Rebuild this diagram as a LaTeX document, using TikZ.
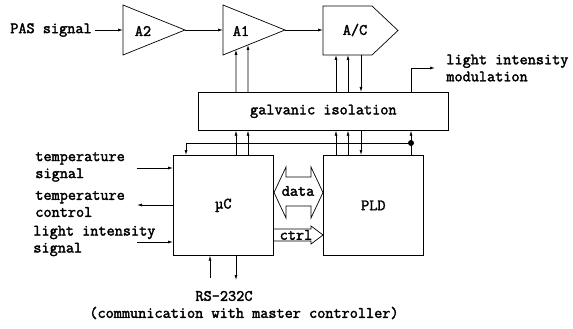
\documentclass[tikz,border=0pt]{standalone}
\usepackage{fontspec}
\setmonofont{Latin Modern Mono}[FakeBold=2.2]
\usetikzlibrary{arrows.meta,calc}
\newcommand\lbfont{\fontsize{15.8}{17}\selectfont\ttfamily}
\begin{document}
\begin{tikzpicture}[x=1pt,y=-1pt,line width=0.7pt,
  arr/.style={-{Latex[length=5pt,width=3pt]}},
  box/.style={draw,inner sep=0pt,anchor=north west,font=\lbfont},
  lbl/.style={font=\lbfont,inner sep=0pt},
  txt/.style={font=\lbfont,inner sep=0pt,align=left}]
\useasboundingbox (0,0) rectangle (573,329);
% amplifiers
\coordinate (a2tl) at (123,5); \coordinate (a2bl) at (123,55); \coordinate (a2tip) at (185,30);
\draw (a2tl) -- (a2tip) -- (a2bl) -- cycle;
\node[lbl] (a2) at (143,31) {A2};
\coordinate (a1tl) at (223,5); \coordinate (a1bl) at (223,55); \coordinate (a1tip) at (285,30);
\draw (a1tl) -- (a1tip) -- (a1bl) -- cycle;
\node[lbl] (a1) at (241,31) {A1};
\coordinate (actl) at (323,6); \coordinate (acbl) at (323,55); \coordinate (actip) at (398,30.5);
\draw (actl) -- (372,6) -- (actip) -- (372,55) -- (acbl) -- cycle;
\node[lbl] (ac) at (355,30) {A/C};
\node[lbl,anchor=east] (pas) at (92,30) {PAS signal};
\draw[arr] ([xshift=3pt]pas.east) -- (a2tl |- a2tip);
\draw[arr] (a2tip) -- (a1tl |- a1tip);
\draw[arr] (a1tip) -- (actl |- a1tip);
% boxes
\node[box,minimum width=250,minimum height=38] (gal) at (198,92) {galvanic isolation};
\node[box,minimum width=100,minimum height=100] (uc) at (173,155) {µC};
\node[box,minimum width=100,minimum height=100] (pld) at (323,155) {PLD};
% columns
\coordinate (x1) at (236,0); \coordinate (x2) at (248,0);
\coordinate (x3) at (336,0); \coordinate (x4) at (348,0);
\coordinate (x5) at (361,0); \coordinate (x6) at (411,0);
\coordinate (x7) at (186,0);
% galvanic -> A1, A/C
\draw[arr] (gal.north -| x1) -- ($(a1bl)!0.2097!(a1tip)$);
\draw[arr] (gal.north -| x2) -- ($(a1bl)!0.4032!(a1tip)$);
\draw[arr] (gal.north -| x3) -- (acbl -| x3);
\draw[arr] (gal.north -| x4) -- (acbl -| x4);
\draw[arr] (acbl -| x5) -- (gal.north -| x5);
\coordinate (lm) at (435,68);
\draw[arr] (gal.north -| x6) |- (lm);
\node[txt,anchor=west] (lmt) at (446,68) {light intensity\\modulation};
% uC / PLD -> galvanic
\draw[arr] (uc.north -| x1) -- (gal.south -| x1);
\draw[arr] (uc.north -| x2) -- (gal.south -| x2);
\draw[arr] (pld.north -| x3) -- (gal.south -| x3);
\draw[arr] (pld.north -| x4) -- (gal.south -| x4);
\draw[arr] (gal.south -| x5) -- (pld.north -| x5);
\draw[arr] (pld.north -| x6) -- (gal.south -| x6);
\coordinate (dot) at (411,143);
\fill (dot) circle (3pt);
\draw[arr] (dot) -| (uc.north -| x7);
% left side
\coordinate (ts) at (137,168); \coordinate (tc) at (137,205); \coordinate (ls) at (137,242);
\draw[arr] (ts) -- (uc.west |- ts);
\draw[arr] (uc.west |- tc) -- (tc);
\draw[arr] (ls) -- (uc.west |- ls);
\node[txt,anchor=west] (tst) at (35,167) {temperature\\signal};
\node[txt,anchor=west] (tct) at (35,204) {temperature\\control};
\node[txt,anchor=west] (lst) at (33,241) {light intensity\\signal};
% data / ctrl
\draw (274,192.5) -- (286,167) -- (286,177) -- (311,177) -- (311,167) -- (323,192.5)
  -- (311,218) -- (311,206) -- (286,206) -- (286,218) -- cycle;
\node[lbl] (data) at (298,191) {data};
\draw (273,229) -- (311,229) -- (311,226) -- (323,235) -- (311,244) -- (311,241) -- (273,241);
\node[lbl] (ctrl) at (296,235) {ctrl};
% RS-232C
\coordinate (rs1) at (210,278); \coordinate (rs2) at (236,280);
\draw[arr] (rs1) -- (uc.south -| rs1);
\draw[arr] (uc.south -| rs2) -- (rs2);
\node[lbl] (rs) at (224,296) {RS-232C};
\node[lbl] (comm) at (244,313) {(communication with master controller)};
\end{tikzpicture}
\end{document}
